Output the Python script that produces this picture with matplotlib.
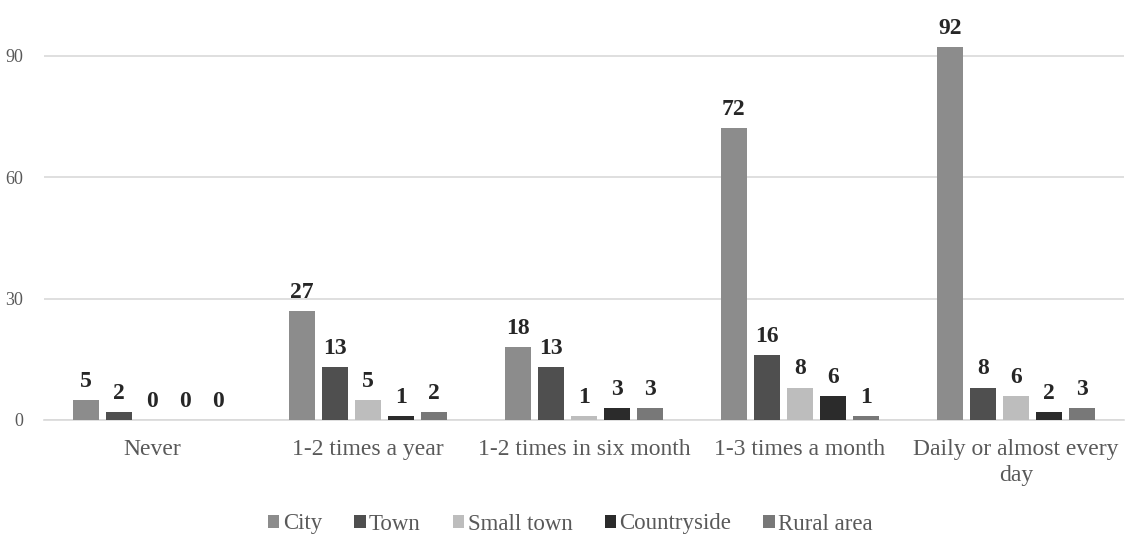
import matplotlib.pyplot as plt
import numpy as np

# ---------------------------------------------------------------------------
# Data
# ---------------------------------------------------------------------------

CATEGORIES = ["Never", "1-2 times a year", "1-2 times in six month",
              "1-3 times a month", "Daily or almost every\nday"]
SERIES = ["City", "Town", "Small town", "Countryside", "Rural area"]
CITY = [5, 27, 18, 72, 92]
TOWN = [2, 13, 13, 16, 8]
SMALL_TOWN = [0, 5, 1, 8, 6]
COUNTRYSIDE = [0, 1, 3, 6, 2]
RURAL_AREA = [0, 2, 3, 1, 3]
Y_TICKS = [0, 30, 60, 90]

COLORS = ["#8c8c8c", "#4f4f4f", "#bdbdbd", "#2b2b2b", "#787878"]

plt.rcParams["font.family"] = ["Liberation Serif", "DejaVu Serif"]


def main():
    values = [CITY, TOWN, SMALL_TOWN, COUNTRYSIDE, RURAL_AREA]

    fig = plt.figure(figsize=(11.25, 5.38), dpi=100)
    ax = fig.add_axes([44 / 1125, 1 - 420 / 538, 1080 / 1125, 405 / 538])

    x = np.arange(len(CATEGORIES))
    width = 0.12
    step = 0.153
    for i, (name, vals, col) in enumerate(zip(SERIES, values, COLORS)):
        pos = x + (i - 2) * step
        ax.bar(pos, vals, width=width, color=col, label=name, zorder=3)
        for px, v in zip(pos, vals):
            ax.text(px, v + 2.0, f"{v}", ha="center", va="bottom",
                    fontsize=17, fontweight="bold", color="#262626")

    ax.set_xlim(-0.5, len(CATEGORIES) - 0.5)
    ax.set_ylim(0, 100)
    ax.set_yticks(Y_TICKS)
    ax.yaxis.grid(True, color="#d9d9d9", linewidth=1.2, zorder=0)
    ax.set_xticks(x)
    ax.set_xticklabels(CATEGORIES, fontsize=17, color="#595959",
                       linespacing=1.3)
    ax.tick_params(axis="y", length=0, labelsize=13, labelcolor="#595959", pad=15)
    ax.tick_params(axis="x", length=0, pad=14)
    for side in ["top", "right", "left"]:
        ax.spines[side].set_visible(False)
    ax.spines["bottom"].set_color("#d9d9d9")
    ax.spines["bottom"].set_linewidth(1.2)

    fig.legend(loc="center", bbox_to_anchor=(0.507, 1 - 524 / 538), ncol=5,
               frameon=False, fontsize=16.5, labelcolor="#595959",
               handlelength=0.5, handleheight=0.5, handletextpad=0.15,
               columnspacing=1.4)

    plt.savefig("out.png", dpi=100)


if __name__ == "__main__":
    main()
